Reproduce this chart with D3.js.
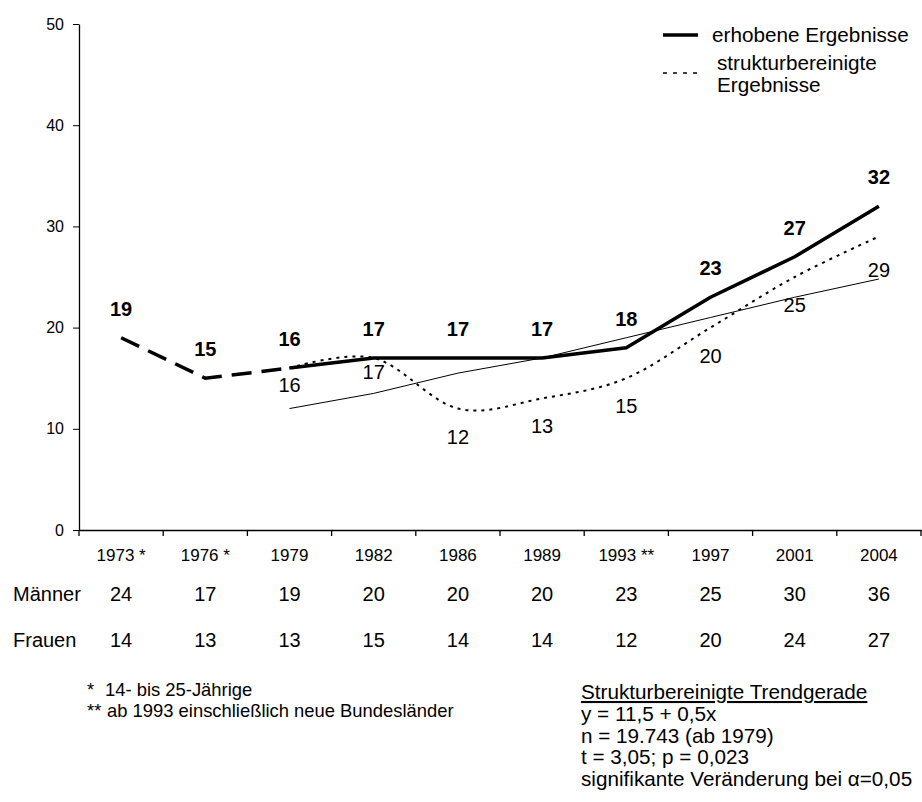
<!DOCTYPE html>
<html>
<head>
<meta charset="utf-8">
<script src="https://cdn.jsdelivr.net/npm/d3@7"></script>
<style>
  body { margin: 0; background: #fff; }
  text { font-family: "Liberation Sans", Arial, sans-serif; fill: #000; }
</style>
</head>
<body>
<div id="chart"></div>
<script>
// values
var years = ["1973 *", "1976 *", "1979", "1982", "1986", "1989", "1993 **", "1997", "2001", "2004"];
var erhoben = [19, 15, 16, 17, 17, 17, 18, 23, 27, 32];
var bereinigt = [null, null, 16, 17, 12, 13, 15, 20, 25, 29];
var trend = [null, null, 12, 13.5, 15.5, 17, 19, 21, 23, 24.8];
var maenner = [24, 17, 19, 20, 20, 20, 23, 25, 30, 36];
var frauen = [14, 13, 13, 15, 14, 14, 12, 20, 24, 27];
var yTicks = [0, 10, 20, 30, 40, 50];
var footnotes = [["*", "14- bis 25-Jährige"], ["**", "ab 1993 einschließlich neue Bundesländer"]];
var trendText = ["y = 11,5 + 0,5x", "n = 19.743 (ab 1979)", "t = 3,05; p = 0,023", "signifikante Veränderung bei α=0,05"];

var width = 922, height = 802;

var svg = d3.select("#chart")
  .append("svg")
    .attr("width", width)
    .attr("height", height);

var x = d3.scaleBand().domain(years).range([79, 921]);
var y = d3.scaleLinear().domain([0, 50]).range([530, 24]);

function cx(i) { return x(years[i]) + x.bandwidth() / 2; }

// y axis
var yAxis = svg.append("g")
  .attr("transform", "translate(79,0)")
  .attr("font-family", null)
  .call(d3.axisLeft(y).tickValues(yTicks).tickSize(6).tickSizeOuter(0).tickPadding(9));
yAxis.attr("font-family", null).attr("font-size", null);
yAxis.selectAll("text").style("font-size", "16px");
yAxis.select(".domain").attr("stroke-width", 1.3);

// x axis: labels at centres, ticks at the band borders
var xAxis = svg.append("g")
  .attr("transform", "translate(0,530)")
  .call(d3.axisBottom(x).tickSize(0).tickPadding(19));
xAxis.attr("font-family", null).attr("font-size", null);
xAxis.selectAll("text").style("font-size", "17px");
xAxis.select(".domain").attr("stroke-width", 1.3);

var borders = years.map(function(d) { return x(d); }).concat([x.range()[1]]);
svg.selectAll(".xtick")
  .data(borders)
  .enter()
  .append("line")
    .attr("x1", function(d) { return d; })
    .attr("x2", function(d) { return d; })
    .attr("y1", 530)
    .attr("y2", 536)
    .attr("stroke", "#000")
    .attr("stroke-width", 1.3);

// lines
var idx = d3.range(years.length);

var lineStraight = d3.line()
  .x(function(i) { return cx(i); })
  .y(function(i) { return y(erhoben[i]); });

// dashed part 1973-1979
svg.append("path")
  .attr("d", lineStraight([0, 1, 2]))
  .attr("fill", "none")
  .attr("stroke", "#000")
  .attr("stroke-width", 3.5)
  .attr("stroke-dasharray", "20,10");

// trend line
svg.append("path")
  .attr("d", d3.line()
    .defined(function(i) { return trend[i] !== null; })
    .x(function(i) { return cx(i); })
    .y(function(i) { return y(trend[i]); })(idx))
  .attr("fill", "none")
  .attr("stroke", "#000")
  .attr("stroke-width", 1);

// strukturbereinigt, smoothed dotted
svg.append("path")
  .attr("d", d3.line()
    .defined(function(i) { return bereinigt[i] !== null; })
    .curve(d3.curveCardinal.tension(0))
    .x(function(i) { return cx(i); })
    .y(function(i) { return y(bereinigt[i]); })(idx))
  .attr("fill", "none")
  .attr("stroke", "#000")
  .attr("stroke-width", 2)
  .attr("stroke-dasharray", "3,5");

// erhoben solid from 1979
svg.append("path")
  .attr("d", lineStraight(idx.slice(2)))
  .attr("fill", "none")
  .attr("stroke", "#000")
  .attr("stroke-width", 3.5)
  .attr("stroke-linejoin", "round");

// labels
svg.selectAll(".lab-e")
  .data(idx)
  .enter()
  .append("text")
    .attr("x", function(i) { return cx(i); })
    .attr("y", function(i) { return y(erhoben[i]) - 22; })
    .attr("text-anchor", "middle")
    .style("font-size", "20px")
    .style("font-weight", "bold")
    .text(function(i) { return erhoben[i]; });

svg.selectAll(".lab-b")
  .data(idx.filter(function(i) { return bereinigt[i] !== null; }))
  .enter()
  .append("text")
    .attr("x", function(i) { return cx(i); })
    .attr("y", function(i) {
      // first two labels sit closer to the line in the original
      var off = i === 2 ? 24 : (i === 3 ? 21 : (i === 9 ? 40 : 35));
      return y(bereinigt[i]) + off;
    })
    .attr("text-anchor", "middle")
    .style("font-size", "20px")
    .text(function(i) { return bereinigt[i]; });

// legend
svg.append("line")
  .attr("x1", 663).attr("x2", 698).attr("y1", 35).attr("y2", 35)
  .attr("stroke", "#000").attr("stroke-width", 3.5);
svg.append("text").attr("x", 712).attr("y", 42).style("font-size", "20.7px").text("erhobene Ergebnisse");
svg.append("line")
  .attr("x1", 663).attr("x2", 700).attr("y1", 73).attr("y2", 73)
  .attr("stroke", "#000").attr("stroke-width", 1.5).attr("stroke-dasharray", "4,6");
svg.append("text").attr("x", 717).attr("y", 70).style("font-size", "20.7px").text("strukturbereinigte");
svg.append("text").attr("x", 717).attr("y", 92).style("font-size", "20.7px").text("Ergebnisse");

// table rows
var rows = [["Männer", maenner, 601], ["Frauen", frauen, 647]];
rows.forEach(function(r) {
  svg.append("text").attr("x", 13).attr("y", r[2]).style("font-size", "20px").text(r[0]);
  svg.selectAll(null)
    .data(r[1])
    .enter()
    .append("text")
      .attr("x", function(d, i) { return cx(i); })
      .attr("y", r[2])
      .attr("text-anchor", "middle")
      .style("font-size", "20px")
      .text(function(d) { return d; });
});

// footnotes
footnotes.forEach(function(f, i) {
  svg.append("text").attr("x", 87).attr("y", 696 + i * 21).style("font-size", "18.4px").text(f[0]);
  svg.append("text").attr("x", i === 0 ? 105 : 107).attr("y", 696 + i * 21).style("font-size", "18.4px").text(f[1]);
});

// trend box text
svg.append("text")
  .attr("x", 581).attr("y", 699)
  .style("font-size", "20.7px")
  .style("text-decoration", "underline")
  .text("Strukturbereinigte Trendgerade");
trendText.forEach(function(t, i) {
  svg.append("text")
    .attr("x", 581).attr("y", 721 + i * 21.5)
    .style("font-size", "20.7px")
    .text(t);
});
</script>
</body>
</html>
